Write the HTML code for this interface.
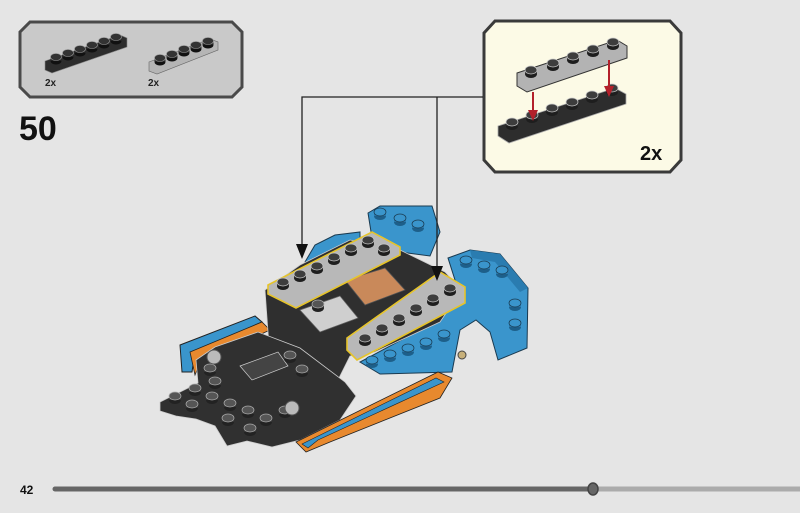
<!DOCTYPE html>
<html><head><meta charset="utf-8"><style>
html,body{margin:0;padding:0;background:#e5e5e5;}
svg{display:block}
text{font-family:"Liberation Sans",sans-serif;font-weight:bold}
</style></head><body>
<svg width="800" height="513" viewBox="0 0 800 513" xmlns="http://www.w3.org/2000/svg">
<defs>
<g id="sd"><ellipse cx="0" cy="2" rx="6" ry="4" fill="#1e1e1e"/><rect x="-6" y="-2" width="12" height="4" fill="#2a2a2a"/><ellipse cx="0" cy="-2" rx="6" ry="4" fill="#3d3d3d" stroke="#c8c8c8" stroke-width="0.7"/></g>
<g id="sl"><ellipse cx="0" cy="2" rx="6" ry="4" fill="#222"/><rect x="-6" y="-2" width="12" height="4" fill="#333"/><ellipse cx="0" cy="-2" rx="6" ry="4" fill="#555" stroke="#aaa" stroke-width="0.7"/></g>
<g id="sb"><ellipse cx="0" cy="2" rx="6" ry="4" fill="#1d5f8a"/><rect x="-6" y="-2" width="12" height="4" fill="#2a7cb0"/><ellipse cx="0" cy="-2" rx="6" ry="4" fill="#3a95cc" stroke="#1a3a50" stroke-width="0.7"/></g>
<g id="ss"><ellipse cx="0" cy="2" rx="5.5" ry="3.5" fill="#111"/><rect x="-5.5" y="-2" width="11" height="4" fill="#222"/><ellipse cx="0" cy="-2" rx="5.5" ry="3.5" fill="#333" stroke="#999" stroke-width="0.6"/></g>
</defs>

<!-- parts box -->
<polygon points="30,22 232,22 242,32 242,87 232,97 30,97 20,87 20,32" fill="#c9c9c9" stroke="#4a4a4a" stroke-width="3"/>
<polygon points="45,61 120,35 127,38 127,47 52,73 45,70" fill="#2d2d2d" stroke="#888" stroke-width="0.6"/>
<g transform="translate(56,59)"><use href="#ss"/></g><g transform="translate(68,55)"><use href="#ss"/></g><g transform="translate(80,51)"><use href="#ss"/></g><g transform="translate(92,47)"><use href="#ss"/></g><g transform="translate(104,43)"><use href="#ss"/></g><g transform="translate(116,39)"><use href="#ss"/></g>
<polygon points="149,62 210,39 218,42 218,50 157,74 149,71" fill="#b5b5b5" stroke="#666" stroke-width="0.6"/>
<g transform="translate(160,60)"><use href="#ss"/></g><g transform="translate(172,56)"><use href="#ss"/></g><g transform="translate(184,51)"><use href="#ss"/></g><g transform="translate(196,47)"><use href="#ss"/></g><g transform="translate(208,43)"><use href="#ss"/></g>
<text x="45" y="86" font-size="10" fill="#222">2x</text>
<text x="148" y="86" font-size="10" fill="#222">2x</text>
<text x="19" y="140" font-size="34" fill="#111">50</text>

<!-- callout -->
<polygon points="495,21 670,21 681,33 681,160 670,172 495,172 484,160 484,33" fill="#fcfae6" stroke="#3a3a3a" stroke-width="3"/>
<polygon points="517,73 617,40 627,46 627,58 527,92 517,86" fill="#b3b3b3" stroke="#333" stroke-width="1"/>
<g transform="translate(531,72)"><use href="#sd"/></g><g transform="translate(553,65)"><use href="#sd"/></g><g transform="translate(573,58)"><use href="#sd"/></g><g transform="translate(593,51)"><use href="#sd"/></g><g transform="translate(613,44)"><use href="#sd"/></g>
<polygon points="498,126 615,88 626,94 626,104 509,143 498,136" fill="#2d2d2d" stroke="#aaa" stroke-width="0.8"/>
<g transform="translate(512,124)"><use href="#sd"/></g><g transform="translate(532,117)"><use href="#sd"/></g><g transform="translate(552,110)"><use href="#sd"/></g><g transform="translate(572,104)"><use href="#sd"/></g><g transform="translate(592,97)"><use href="#sd"/></g><g transform="translate(612,90)"><use href="#sd"/></g>
<line x1="533" y1="92" x2="533" y2="112" stroke="#b3202a" stroke-width="2"/><polygon points="528,110 538,110 533,121" fill="#b3202a"/>
<line x1="609" y1="60" x2="609" y2="88" stroke="#b3202a" stroke-width="2"/><polygon points="604,86 614,86 609,97" fill="#b3202a"/>
<text x="640" y="160" font-size="20" fill="#111">2x</text>

<!-- car -->
<!-- left wheel arch blue -->
<polygon points="305,262 315,245 335,235 360,232 360,262 320,275" fill="#3a95cc" stroke="#1a3a50" stroke-width="1"/>
<!-- spoiler -->
<polygon points="368,213 380,206 432,206 440,232 430,256 400,252 372,238" fill="#3a95cc" stroke="#1a3a50" stroke-width="1"/>
<!-- fender -->
<polygon points="448,258 470,250 500,254 528,288 527,348 498,360 490,332 476,320 460,330 452,372 380,374 360,362 420,330 460,302 455,280" fill="#3a95cc" stroke="#1a3a50" stroke-width="1"/>
<polygon points="470,250 500,254 528,288 520,292 495,262 472,258" fill="#2a7cb0"/>
<polygon points="180,345 255,316 262,322 195,352 192,372 182,372" fill="#3a95cc" stroke="#222" stroke-width="1"/>
<polygon points="190,352 262,322 270,330 200,362 195,375" fill="#e8892e" stroke="#222" stroke-width="0.8"/>
<polygon points="265,290 300,265 350,240 400,250 445,272 462,290 440,322 375,352 350,356 332,392 300,394 270,360" fill="#2f2f2f" stroke="#ccc" stroke-width="0.8"/>
<polygon points="160,402 198,383 196,360 215,347 258,332 300,348 345,382 356,396 340,420 300,440 272,447 247,441 227,446 215,426 196,419 176,416 160,411" fill="#303030" stroke="#ccc" stroke-width="0.8"/>
<polygon points="296,442 438,372 452,378 440,398 330,442 306,452" fill="#e8892e" stroke="#222" stroke-width="0.8"/>
<polygon points="302,444 436,378 444,382 318,440 308,448" fill="#3a95cc" stroke="#222" stroke-width="0.6"/>
<polygon points="240,366 278,352 288,366 252,380" fill="#444" stroke="#ccc" stroke-width="0.7"/>
<polygon points="300,310 340,296 358,318 320,332" fill="#cfcfcf" stroke="#666" stroke-width="0.7"/>
<polygon points="345,280 385,268 405,290 365,305" fill="#c9895a" stroke="#555" stroke-width="0.8"/>
<circle cx="340" cy="272" r="8" fill="#222"/>
<!-- yellow plates -->
<polygon points="268,285 372,232 400,247 400,255 296,308 268,294" fill="#b8b8b8" stroke="#e6c42a" stroke-width="1.6"/>
<polygon points="347,338 440,272 465,287 465,303 357,360 347,350" fill="#b8b8b8" stroke="#e6c42a" stroke-width="1.6"/>
<g transform="translate(283,284)"><use href="#sd"/></g><g transform="translate(300,276)"><use href="#sd"/></g><g transform="translate(317,268)"><use href="#sd"/></g><g transform="translate(334,259)"><use href="#sd"/></g><g transform="translate(351,250)"><use href="#sd"/></g><g transform="translate(368,242)"><use href="#sd"/></g><g transform="translate(384,250)"><use href="#sd"/></g>
<g transform="translate(365,340)"><use href="#sd"/></g><g transform="translate(382,330)"><use href="#sd"/></g><g transform="translate(399,320)"><use href="#sd"/></g><g transform="translate(416,310)"><use href="#sd"/></g><g transform="translate(433,300)"><use href="#sd"/></g><g transform="translate(450,290)"><use href="#sd"/></g>
<!-- blue studs -->
<g transform="translate(380,214)"><use href="#sb"/></g><g transform="translate(400,220)"><use href="#sb"/></g><g transform="translate(418,226)"><use href="#sb"/></g><g transform="translate(466,262)"><use href="#sb"/></g><g transform="translate(484,267)"><use href="#sb"/></g><g transform="translate(502,272)"><use href="#sb"/></g><g transform="translate(372,362)"><use href="#sb"/></g><g transform="translate(390,356)"><use href="#sb"/></g><g transform="translate(408,350)"><use href="#sb"/></g><g transform="translate(426,344)"><use href="#sb"/></g><g transform="translate(444,336)"><use href="#sb"/></g><g transform="translate(515,305)"><use href="#sb"/></g><g transform="translate(515,325)"><use href="#sb"/></g>
<!-- dark studs front -->
<g transform="translate(175,398)"><use href="#sl"/></g><g transform="translate(192,406)"><use href="#sl"/></g><g transform="translate(195,390)"><use href="#sl"/></g><g transform="translate(212,398)"><use href="#sl"/></g><g transform="translate(215,383)"><use href="#sl"/></g><g transform="translate(230,405)"><use href="#sl"/></g><g transform="translate(248,412)"><use href="#sl"/></g><g transform="translate(266,420)"><use href="#sl"/></g><g transform="translate(228,420)"><use href="#sl"/></g><g transform="translate(250,430)"><use href="#sl"/></g><g transform="translate(210,370)"><use href="#sl"/></g><g transform="translate(285,412)"><use href="#sl"/></g><g transform="translate(290,357)"><use href="#sl"/></g><g transform="translate(302,371)"><use href="#sl"/></g><g transform="translate(318,306)"><use href="#sl"/></g>
<circle cx="214" cy="357" r="7" fill="#bbb" stroke="#555"/><circle cx="292" cy="408" r="7" fill="#bbb" stroke="#555"/>
<circle cx="462" cy="355" r="4" fill="#c7b07a" stroke="#444"/>

<!-- connectors -->
<polyline points="302,246 302,97 483,97" fill="none" stroke="#222" stroke-width="1.3"/>
<line x1="437" y1="97" x2="437" y2="268" stroke="#222" stroke-width="1.3"/>
<polygon points="296,244 308,244 302,259" fill="#111"/>
<polygon points="431,266 443,266 437,281" fill="#111"/>

<!-- footer -->
<text x="20" y="494" font-size="12" fill="#111">42</text>
<line x1="55" y1="489" x2="593" y2="489" stroke="#666" stroke-width="5" stroke-linecap="round"/>
<line x1="593" y1="489" x2="800" y2="489" stroke="#ababab" stroke-width="5"/>
<ellipse cx="593" cy="489" rx="5" ry="6" fill="#666" stroke="#444" stroke-width="1.5"/>
</svg>
</body></html>
